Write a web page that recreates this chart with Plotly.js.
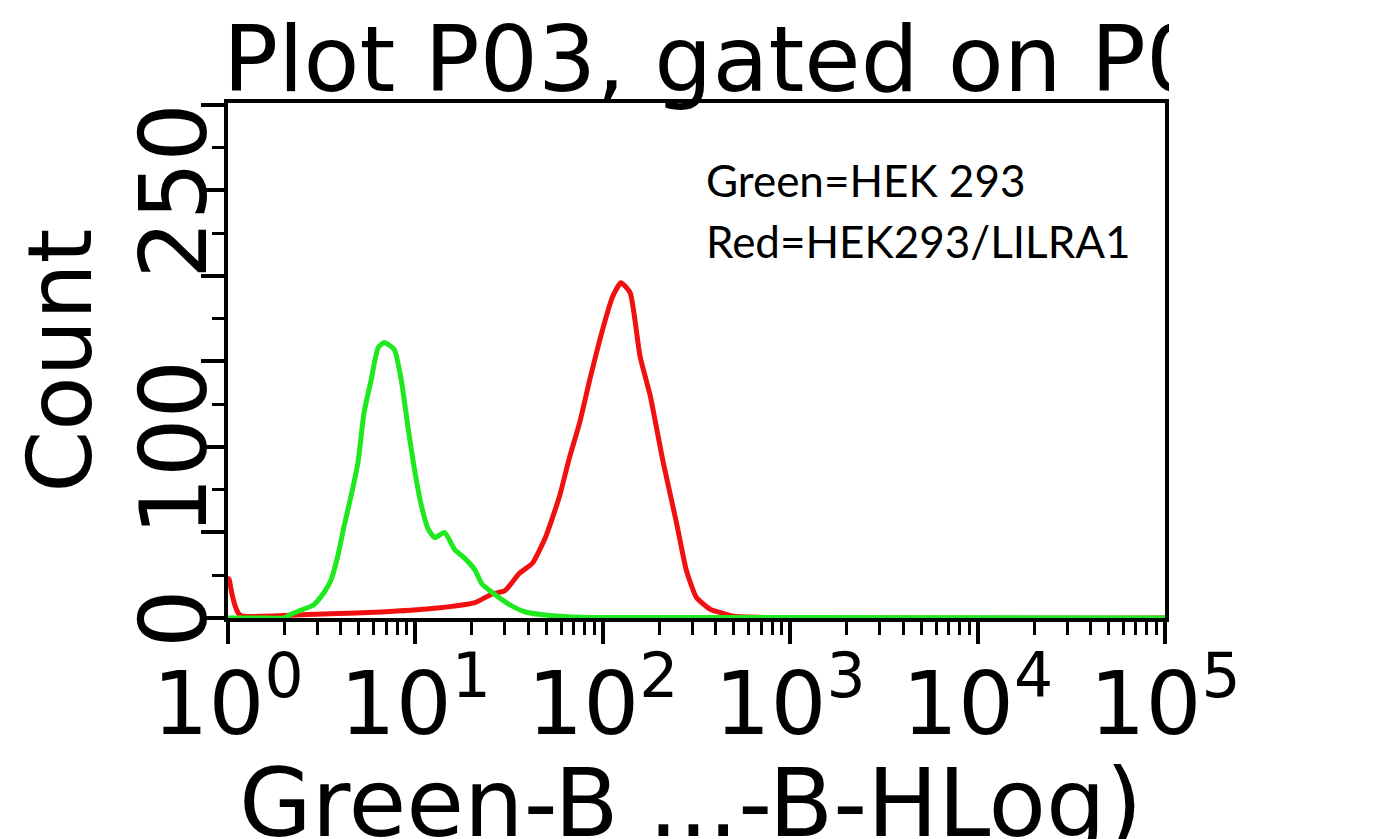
<!DOCTYPE html>
<html><head>
<script src="https://cdn.plot.ly/plotly-3.0.1.min.js"></script>
<style>body{margin:0;background:#fff}#c{width:1374px;height:839px;position:relative}#cover{position:absolute;left:1169px;top:0;width:205px;height:100px;background:#fff}</style>
</head><body>
<div id="c"></div><div id="cover"></div>
<script>
const greenX=[1,1.5,2.0,2.15,2.44,2.86,3.24,3.54,3.85,4.15,4.53,4.94,5.32,5.80,6.32,6.81,7.71,8.41,9.17,9.88,10.8,11.7,12.7,14.3,16.2,18.3,20.8,22.6,25.6,31.6,38.6,51.9,78,100000];
const greenY=[0,0,0,2,4.5,7.6,14.6,22,36,53,71,91,120,139,158,161,157,139,110,87,65,52,47,50,40,35,28,20,15,8,3.5,1.5,0.5,0];
const redX=[1,1.012,1.05,1.1,1.15,1.2,1.5,2,3.53,6.56,12.2,20.8,25.6,30.1,35.8,42.1,49.4,58.7,66.5,75.2,85.1,100,113,125,140,158,179,210,247,279,316,376,431,500,100000];
const redY=[20,23,14,6,2,1,1,1.5,2.5,3.5,5.5,9,14,16,26,32,47,71,94,114,139,169,188,196,190,153,130,91,56,28,12,5,3,1,0];
const xTickVals=[1,10,100,1000,10000,100000];
const xTickText=['10<sup>0</sup>','10<sup>1</sup>','10<sup>2</sup>','10<sup>3</sup>','10<sup>4</sup>','10<sup>5</sup>'];
const yTickVals=[0,50,100,150,200,250,300];
const yTickText=['0\u00a0','','100\u00a0','','','250\u00a0',''];
const titleText='Plot P03, gated on P0';
const xTitle='Green-B ...-B-HLog)';
const yTitle='Count';
const legendLines=['Green=HEK 293','Red=HEK293/LILRA1'];

const F='DejaVu Sans, sans-serif';
const traces=[
 {x:redX,y:redY,type:'scatter',mode:'lines',line:{color:'#f01010',width:5,shape:'spline',smoothing:0.5},hoverinfo:'skip'},
 {x:greenX,y:greenY,type:'scatter',mode:'lines',line:{color:'#1ee81e',width:5,shape:'spline',smoothing:0.5},hoverinfo:'skip'}
];
const layout={
 width:1374,height:839,showlegend:false,
 paper_bgcolor:'#fff',plot_bgcolor:'#fff',
 margin:{l:228,r:209,t:103,b:221},
 xaxis:{type:'log',range:[0,5],showline:true,linewidth:4,linecolor:'#000',mirror:true,showgrid:false,zeroline:false,
  ticks:'outside',ticklen:22,tickwidth:4,tickcolor:'#000',tickvals:xTickVals,ticktext:xTickText,
  tickfont:{family:F,size:88,color:'#000'},ticklabelstandoff:-16,
  minor:{ticks:'outside',ticklen:13,tickwidth:3,tickcolor:'#000',dtick:'D1',showgrid:false}},
 yaxis:{range:[0,301],showline:true,linewidth:4,linecolor:'#000',mirror:true,showgrid:false,zeroline:false,
  ticks:'outside',ticklen:23,tickwidth:4,tickcolor:'#000',tickvals:yTickVals,ticktext:yTickText,tickangle:-90,
  tickfont:{family:F,size:92,color:'#000'},ticklabelstandoff:-42,
  minor:{ticks:'outside',ticklen:12,tickwidth:3,tickcolor:'#000',dtick:25,showgrid:false}},
 annotations:[
  {text:titleText,xref:'paper',yref:'paper',x:-0.008,y:1.085,xanchor:'left',yanchor:'middle',showarrow:false,font:{family:F,size:91.5,color:'#000'}},
  {text:yTitle,xref:'paper',yref:'paper',x:-0.18,y:0.5,xanchor:'center',yanchor:'middle',textangle:-90,showarrow:false,font:{family:F,size:89,color:'#000'}},
  {text:xTitle,xref:'paper',yref:'paper',x:0.494,y:-0.36,xanchor:'center',yanchor:'middle',showarrow:false,font:{family:F,size:94,color:'#000'}},
  {text:legendLines[0],xref:'paper',yref:'paper',x:0.508,y:0.85,xanchor:'left',yanchor:'middle',showarrow:false,font:{family:'Lato, sans-serif',size:44,color:'#000'}},
  {text:legendLines[1],xref:'paper',yref:'paper',x:0.508,y:0.732,xanchor:'left',yanchor:'middle',showarrow:false,font:{family:'Lato, sans-serif',size:44,color:'#000'}}
 ]
};
Plotly.newPlot('c',traces,layout,{displayModeBar:false,staticPlot:true});
</script>
</body></html>
